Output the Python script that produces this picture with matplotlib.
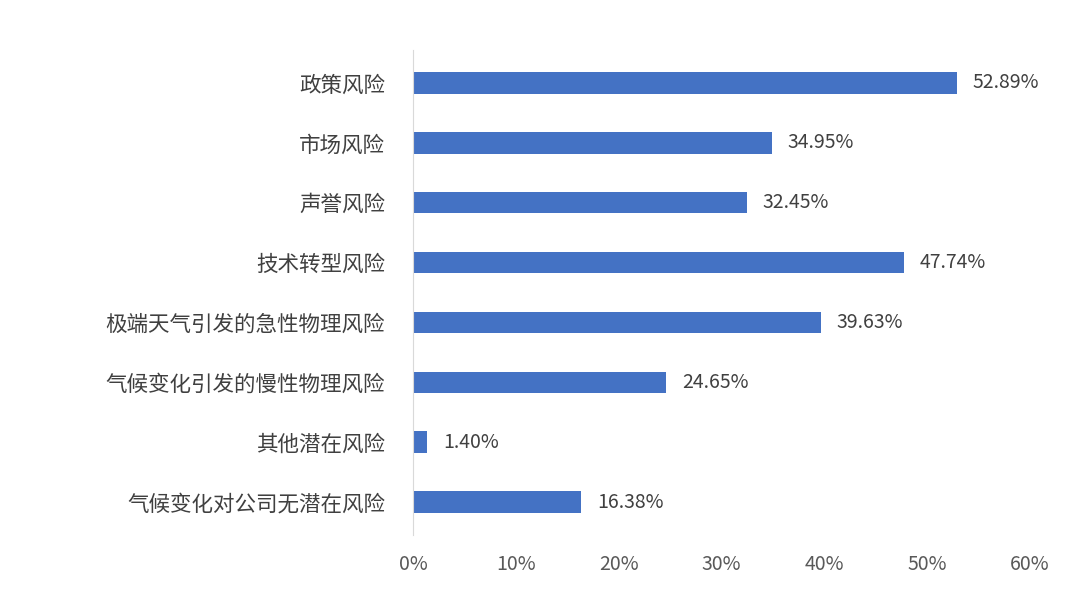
import matplotlib
matplotlib.use("Agg")
import matplotlib.pyplot as plt
from matplotlib.ticker import FuncFormatter

plt.rcParams['font.family'] = ['Noto Sans CJK SC', 'DejaVu Sans']

categories = ["政策风险", "市场风险", "声誉风险", "技术转型风险", "极端天气引发的急性物理风险",
              "气候变化引发的慢性物理风险", "其他潜在风险", "气候变化对公司无潜在风险"]
values = [52.89, 34.95, 32.45, 47.74, 39.63, 24.65, 1.40, 16.38]

fig = plt.figure(figsize=(10.8, 6.07), dpi=100)
ax = fig.add_axes([413/1080, 1-535/607, (1030-413)/1080, (535-50)/607])
y = list(range(len(categories)))[::-1]
ax.barh(y, values, height=0.36, color="#4472C4")
for yi, v in zip(y, values):
    ax.text(v + 1.5, yi, f"{v:.2f}%", va="center", ha="left", fontsize=14, color="#404040")
ax.set_yticks(y)
ax.set_yticklabels(categories, fontsize=15.5, color="#404040")
ax.set_xlim(0, 60)
ax.set_ylim(-0.55, 7.55)
ax.set_xticks(range(0, 61, 10))
ax.xaxis.set_major_formatter(FuncFormatter(lambda x, p: f"{int(x)}%"))
ax.tick_params(axis='x', labelsize=14, colors="#595959", length=0, pad=14)
ax.tick_params(axis='y', length=0, pad=20)
for s in ["top", "right", "bottom"]:
    ax.spines[s].set_visible(False)
ax.spines["left"].set_color("#D9D9D9")
fig.savefig("out.png", dpi=100)
